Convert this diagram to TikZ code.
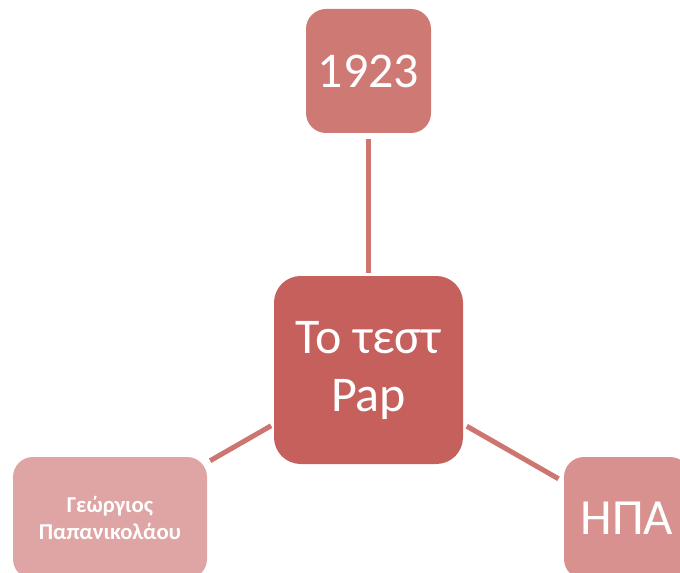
\documentclass[tikz,border=0pt]{standalone}
\usepackage{fontspec}
\setmainfont{Carlito}
\definecolor{ctrfill}{HTML}{C6605C}
\definecolor{topfill}{HTML}{CF7974}
\definecolor{blfill}{HTML}{DFA5A4}
\definecolor{brfill}{HTML}{D8918E}
\definecolor{linkcol}{HTML}{CD7571}
\begin{document}
\begin{tikzpicture}[x=0.75pt,y=-0.75pt,
  box/.style={rectangle, inner sep=0pt, text=white, align=center, draw=none},
  link/.style={draw=linkcol, line width=3.75pt}]
\useasboundingbox (0,0) rectangle (680,573);
\clip (0,0) rectangle (680,573);
\node[box, fill=ctrfill, rounded corners=20pt, minimum width=141.75pt, minimum height=141pt,
  font=\fontsize{37.5}{43.5}\selectfont] (c) at (368.5,370) {Το τεστ\\Pap};
\node[box, fill=topfill, rounded corners=15pt, minimum width=93.75pt, minimum height=93pt,
  font=\fontsize{37.5}{43.5}\selectfont] (t) at (368.5,71) {1923};
\node[box, fill=blfill, rounded corners=15pt, minimum width=145.5pt, minimum height=91.5pt,
  font=\bfseries\fontsize{17}{20.25}\selectfont] (bl) at (110,518) {Γεώργιος\\Παπανικολάου};
\node[box, fill=brfill, rounded corners=15pt, minimum width=94.5pt, minimum height=91.5pt,
  font=\fontsize{38}{44}\selectfont] (br) at (627,518) {ΗΠΑ};
\draw[link, shorten <=4.5pt, shorten >=2.25pt] (t.south) -- (c.north);
\draw[link, shorten <=2.5pt, shorten >=2.25pt] (bl) -- (c);
\draw[link, shorten <=3pt, shorten >=4.5pt] (c) -- (br);
\end{tikzpicture}
\end{document}
